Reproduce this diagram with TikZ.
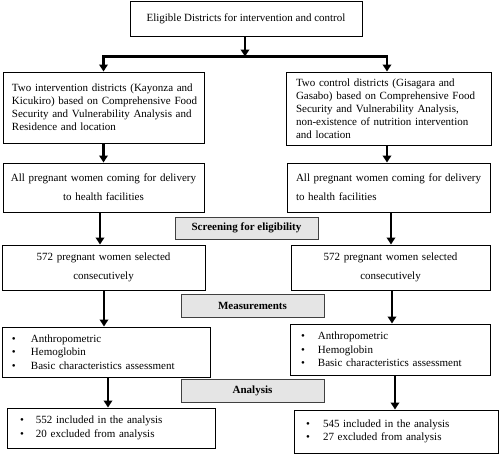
\documentclass[tikz,border=0pt]{standalone}
\usepackage{fontspec}
\setmainfont{Liberation Serif}
\usetikzlibrary{arrows.meta,calc}
\tikzset{
  box/.style={draw=black, line width=1pt, rectangle, inner ysep=0pt, font=\fontsize{11}{13}\selectfont},
  graybox/.style={draw=black!75, fill=black!10, line width=1pt, rectangle, inner sep=0pt, font=\fontsize{11}{13}\selectfont\bfseries},
  arr/.style={line width=2.3pt, -{Triangle[width=8.5pt,length=7pt]}},
  wide/.style={font=\fontsize{11}{19}\selectfont},
}
\newcommand{\bl}[1]{\makebox[#1][l]{\textbullet}}
\begin{document}
\begin{tikzpicture}[x=1pt,y=1pt]
\useasboundingbox (0,0) rectangle (500,-455);
% row 1
\node[box, minimum width=232pt, minimum height=35pt, align=center] (top) at (246,-18.5) {Eligible Districts for intervention and control};
% row 2
\node[box, minimum width=201pt, minimum height=71pt, inner xsep=9pt, text width=183pt, align=left] (b2l) at (103.5,-107.5)
  {\mbox{Two intervention districts (Kayonza and}\\\mbox{Kicukiro) based on Comprehensive Food}\\\mbox{Security and Vulnerability Analysis and}\\\mbox{Residence and location}};
\node[box, minimum width=205pt, minimum height=73pt, inner xsep=10pt, text width=185pt, align=left] (b2r) at (388.5,-108.5)
  {\mbox{Two control districts (Gisagara and}\\\mbox{Gasabo) based on Comprehensive Food}\\\mbox{Security and Vulnerability Analysis,}\\\mbox{non-existence of nutrition intervention}\\\mbox{and location}};
% row 3
\node[box, wide, minimum width=201pt, minimum height=49pt, inner xsep=4pt, text width=193pt, align=center] (b3l) at (103.5,-187.5)
  {\mbox{All pregnant women coming for delivery}\\\mbox{to health facilities}};
\node[box, wide, minimum width=203pt, minimum height=49pt, inner xsep=9pt, text width=185pt, align=left] (b3r) at (388.5,-187.5)
  {\mbox{All pregnant women coming for delivery}\\\mbox{to health facilities}};
\node[graybox, minimum width=143pt, minimum height=22pt] (scr) at (246.5,-228) {Screening for eligibility};
% row 4
\node[box, wide, minimum width=203pt, minimum height=45pt, inner xsep=4pt, text width=195pt, align=center] (b4l) at (103.5,-267.5)
  {572 pregnant women selected\\consecutively};
\node[box, wide, minimum width=199pt, minimum height=45pt, inner xsep=4pt, text width=191pt, align=center] (b4r) at (390.5,-267.5)
  {572 pregnant women selected\\consecutively};
\node[graybox, minimum width=143pt, minimum height=23pt] (meas) at (252.5,-305.5) {Measurements};
% row 5
\node[box, minimum width=208pt, minimum height=50pt, inner xsep=10pt, text width=188pt, align=left, font=\fontsize{11}{13.5}\selectfont] (b5l) at (106,-352)
  {\bl{19pt}Anthropometric\\\bl{19pt}Hemoglobin\\\bl{19pt}Basic characteristics assessment};
\node[box, minimum width=200pt, minimum height=51pt, inner xsep=11pt, text width=178pt, align=left, font=\fontsize{11}{13.5}\selectfont] (b5r) at (390,-349.5)
  {\bl{17pt}Anthropometric\\\bl{17pt}Hemoglobin\\\bl{17pt}Basic characteristics assessment};
\node[graybox, minimum width=143pt, minimum height=23pt] (anal) at (252.5,-390.5) {Analysis};
% row 6
\node[box, minimum width=208pt, minimum height=40pt, inner xsep=13pt, text width=182pt, align=left, font=\fontsize{11}{14.5}\selectfont] (b6l) at (111,-428)
  {\bl{16pt}552 included in the analysis\\\bl{16pt}20 excluded from analysis};
\node[box, minimum width=204pt, minimum height=43pt, inner xsep=12pt, text width=180pt, align=left, font=\fontsize{11}{13.5}\selectfont] (b6r) at (396,-431.5)
  {\bl{17pt}545 included in the analysis\\\bl{17pt}27 excluded from analysis};
% connectors
\coordinate (j) at ($(top.south)+(-1,-20)$);
\draw[arr] ([xshift=-1pt]top.south) -- (j);
\draw[line width=2.3pt] (j) -- (j -| b2l.north);
\draw[line width=2.3pt] (j) -- ([xshift=-1.5pt]j -| b2r.north);
\draw[arr] ([yshift=1.15pt]j -| b2l.north) -- (b2l.north);
\draw[arr] ([xshift=-1.5pt,yshift=1.15pt]j -| b2r.north) -- ([xshift=-1.5pt]b2r.north);
\draw[arr] (b2l.south) -- (b3l.north);
\draw[arr] ([xshift=-1.5pt]b2r.south) -- ([xshift=-1.5pt]b2r.south |- b3r.north);
\draw[arr] ([xshift=-3.5pt]b3l.south) -- ([xshift=-3.5pt]b3l.south |- b4l.north);
\draw[arr] ([xshift=2.5pt]b3r.south) -- ([xshift=2.5pt]b3r.south |- b4r.north);
\draw[arr] ([xshift=0.5pt]b4l.south) -- ([xshift=0.5pt]b4l.south |- b5l.north);
\draw[arr] ([xshift=1.5pt]b4r.south) -- ([xshift=1.5pt]b4r.south |- b5r.north);
\draw[arr] ([xshift=2pt]b5l.south) -- ([xshift=2pt]b5l.south |- b6l.north);
\draw[arr] ([xshift=5pt]b5r.south) -- ([xshift=5pt]b5r.south |- b6r.north);
\end{tikzpicture}
\end{document}
